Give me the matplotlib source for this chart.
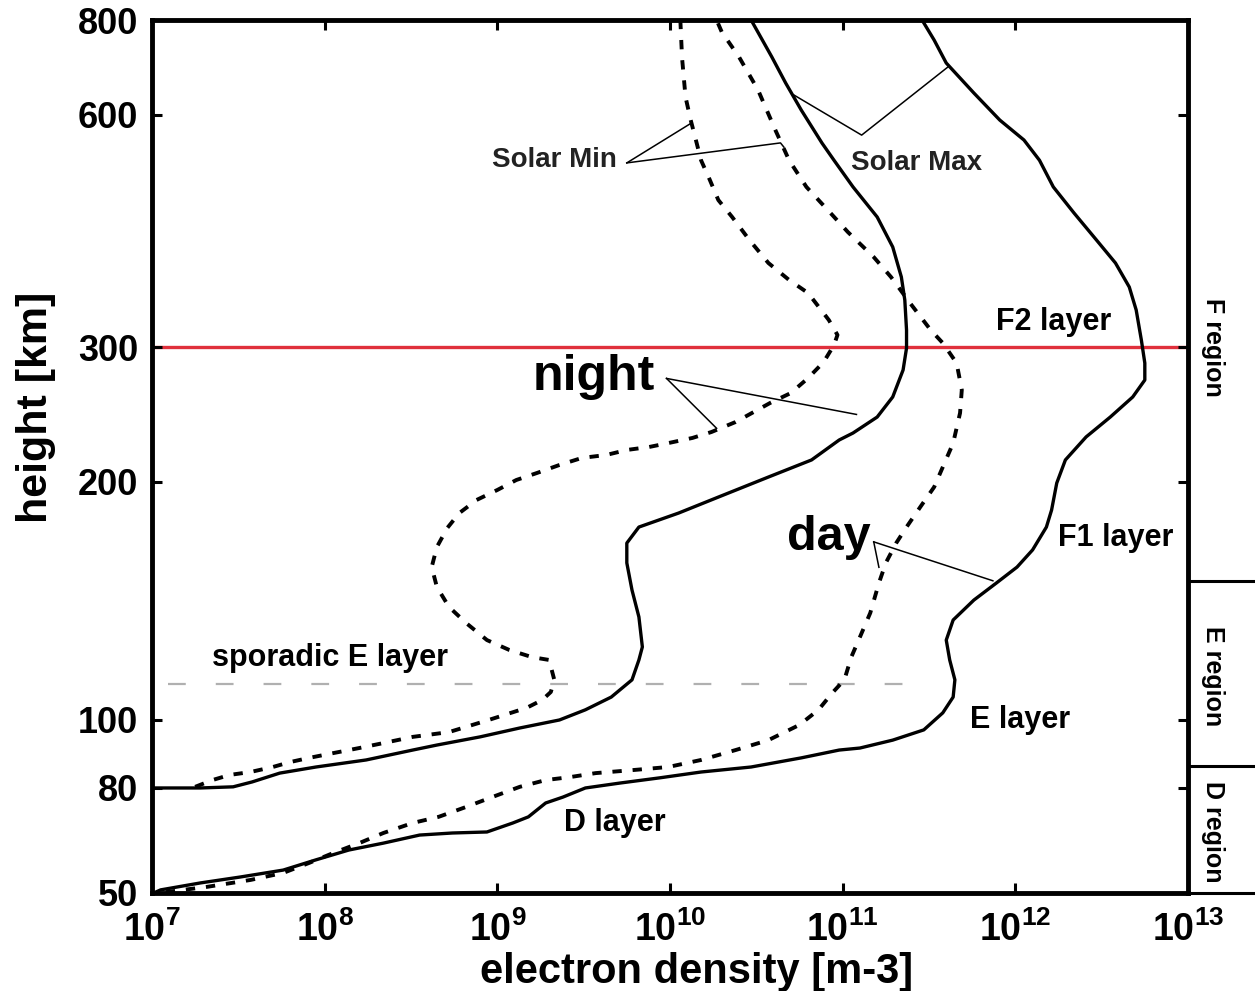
import numpy as np
import matplotlib.pyplot as plt
from matplotlib.ticker import NullLocator
from matplotlib.transforms import blended_transform_factory

plt.rcParams['font.family'] = ['Liberation Sans', 'DejaVu Sans']
plt.rcParams['font.weight'] = 'bold'
plt.rcParams['axes.labelweight'] = 'bold'
plt.rcParams['mathtext.fontset'] = 'custom'
plt.rcParams['mathtext.rm'] = 'Liberation Sans:bold'
plt.rcParams['mathtext.default'] = 'rm'

# electron density profiles: log10(n [m-3]) and height [km]
night_min_logn = [7.25, 7.35, 7.45, 7.57, 7.70, 7.80, 7.91, 8.05, 8.20, 8.34,
                  8.51, 8.72, 8.95, 9.17, 9.26, 9.31, 9.33, 9.30, 9.20, 9.07,
                  8.94, 8.82, 8.72, 8.65, 8.62, 8.65, 8.71, 8.78, 8.88, 9.00,
                  9.11, 9.23, 9.36, 9.49, 9.63, 9.75, 9.88, 9.99, 10.13, 10.24,
                  10.38, 10.58, 10.70, 10.80, 10.89, 10.95, 10.97, 10.92, 10.80, 10.69,
                  10.57, 10.46, 10.36, 10.28, 10.23, 10.18, 10.15, 10.12, 10.09, 10.07,
                  10.06]
night_min_h = [80.3, 82.1, 83.5, 84.3, 85.7, 87.1, 88.3, 89.7, 91.2, 92.7,
               94.6, 96.1, 100, 103.6, 106.0, 108.5, 112.4, 119.1, 120.1, 122.6,
               126.2, 132.6, 139.0, 147.3, 156.1, 165.5, 174.9, 182.7, 189.8, 195.4,
               201.2, 205.5, 210.5, 215.0, 216.9, 220.2, 222.2, 224.8, 228.3, 232.4,
               239.5, 253.6, 261.3, 273.3, 286.8, 301.8, 311, 325.2, 352.5, 366.5,
               385.6, 413, 442.4, 465.4, 494.7, 524.1, 556.8, 591, 633.6, 713,
               800]

night_max_logn = [7.01, 7.28, 7.47, 7.58, 7.74, 7.95, 8.24, 8.51, 8.65, 8.90,
                  9.13, 9.36, 9.51, 9.66, 9.78, 9.82, 9.84, 9.82, 9.78, 9.75,
                  9.75, 9.82, 10.05, 10.28, 10.57, 10.82, 10.98, 11.06, 11.20, 11.29,
                  11.35, 11.37, 11.37, 11.36, 11.34, 11.29, 11.20, 11.06, 10.95, 10.88,
                  10.76, 10.67, 10.59, 10.47]
night_max_h = [80, 80, 80.3, 81.6, 84.0, 85.7, 87.7, 90.6, 92.1, 94.6,
               97.4, 100, 103.0, 106.9, 112.4, 119.1, 123.7, 135.0, 146.0, 158.0,
               167.4, 175.4, 182.7, 191.4, 203.0, 213.7, 226.9, 231.7, 243.1, 258.2,
               280.0, 299.1, 315.6, 345.2, 369.8, 404.5, 442.4, 484.0, 524.1, 551.9,
               609.2, 661.0, 715.2, 800]

day_min_logn = [7.08, 7.32, 7.57, 7.76, 7.91, 8.05, 8.20, 8.34, 8.51, 8.66,
                8.82, 8.97, 9.13, 9.28, 9.42, 9.57, 9.80, 9.99, 10.18, 10.38,
                10.57, 10.75, 10.86, 10.94, 11.01, 11.05, 11.10, 11.16, 11.21, 11.25,
                11.31, 11.37, 11.45, 11.53, 11.58, 11.64, 11.68, 11.69, 11.66, 11.58,
                11.51, 11.39, 11.28, 11.18, 11.03, 10.94, 10.79, 10.69, 10.61, 10.51,
                10.40, 10.30, 10.27]
day_min_h = [50.2, 51.4, 53.0, 54.7, 57.2, 59.8, 62.5, 65.4, 68.4, 70.3,
             73.5, 76.8, 80.3, 82.1, 82.9, 84.0, 84.9, 85.7, 87.7, 90.6,
             93.6, 98.4, 103.0, 108.2, 112.4, 120.1, 127.3, 136.6, 149.0, 158.0,
             167.4, 175.4, 186.0, 197.1, 209.2, 224.8, 246.1, 263.7, 285.9, 303.6,
             315.6, 342.2, 369.8, 392.5, 423.0, 445.1, 484.0, 524.1, 573.8, 647.2,
             715.2, 771.4, 800]

day_max_logn = [7.01, 7.05, 7.28, 7.51, 7.76, 7.95, 8.14, 8.34, 8.55, 8.74,
                8.94, 9.09, 9.18, 9.28, 9.38, 9.51, 9.71, 9.94, 10.18, 10.47,
                10.76, 10.98, 11.10, 11.29, 11.47, 11.58, 11.64, 11.65, 11.62, 11.60,
                11.64, 11.76, 11.89, 12.01, 12.10, 12.18, 12.21, 12.24, 12.29, 12.41,
                12.55, 12.68, 12.75, 12.75, 12.73, 12.72, 12.70, 12.66, 12.58, 12.47,
                12.34, 12.22, 12.14, 12.05, 11.91, 11.76, 11.60, 11.53, 11.46]
day_max_h = [50, 50.7, 52.3, 53.7, 55.4, 58.0, 60.6, 62.5, 64.8, 65.4,
             65.7, 68.4, 70.3, 74.8, 76.8, 80, 81.3, 82.7, 84.3, 85.7,
             88.3, 90.6, 91.2, 93.6, 96.8, 102.1, 106.9, 112.4, 119.1, 126.2,
             133.8, 141.8, 149.0, 156.1, 164.1, 175.4, 184.3, 199.4, 213.7, 229.0,
             243.1, 258.2, 271.7, 285.9, 306.3, 315.6, 335.1, 358.9, 385.6, 413,
             447.7, 484, 524.1, 556.8, 591, 641.3, 702.3, 752.8, 800]

y_ticks = [50, 80, 100, 200, 300, 600, 800]
x_exponents = [7, 8, 9, 10, 11, 12, 13]
f2_peak_h = 300
sporadic_h = 111
sporadic_logn = [7.09, 11.39]
region_bounds = [150, 86, 50]
regions = ['F region', 'E region', 'D region']
region_mid = [300, 113.7, 65.7]

# the height axis of the original is stretched unevenly: tick height -> axis fraction
scale_h = np.log10([1, 50, 80, 100, 200, 300, 600, 800, 1e5])
scale_f = [-1.0, 0.0, 0.1203, 0.1982, 0.4708, 0.6254, 0.8912, 1.0, 2.83]


def h_fwd(h):
    return np.interp(np.log10(np.clip(h, 1, 1e5)), scale_h, scale_f)


def h_inv(f):
    return 10 ** np.interp(f, scale_f, scale_h)


def n(logs):
    return 10 ** np.asarray(logs)


fig = plt.figure(figsize=(12.55, 9.91), dpi=100)
ax = fig.add_axes([0.1211, 0.0989, 0.8255, 0.8809])
ax.set_xscale('log')
ax.set_yscale('function', functions=(h_fwd, h_inv))
ax.set_xlim(1e7, 1e13)
ax.set_ylim(50, 800)

dash = (0, (2.4, 2.8))
ax.plot(n(night_min_logn), night_min_h, color='black', lw=2.8, ls=dash)
ax.plot(n(night_max_logn), night_max_h, color='black', lw=2.4)
ax.plot(n(day_min_logn), day_min_h, color='black', lw=2.8, ls=dash)
ax.plot(n(day_max_logn), day_max_h, color='black', lw=2.4)

ax.axhline(f2_peak_h, color='#e0303c', lw=2.4, zorder=1)
ax.plot(n(sporadic_logn), [sporadic_h, sporadic_h], color='#b0b0b0', lw=1.6,
        ls=(0, (8, 13.5)), zorder=1)

# leader lines of the labels
leaders = [
    [(9.75, 520), (10.12, 585)],
    [(9.75, 520), (10.64, 552), (10.66, 545)],
    [(10.72, 637), (11.11, 565), (11.61, 694)],
    [(9.98, 273), (11.08, 245)],
    [(9.98, 273), (10.27, 235)],
    [(11.18, 168), (11.87, 150)],
    [(11.18, 168), (11.21, 156)],
]
for pts in leaders:
    xs, ys = zip(*pts)
    ax.plot(n(xs), ys, color='black', lw=1.1)

ax.text(n(9.33), 524, 'Solar Min', fontsize=20, ha='center', va='center', color='#222222')
ax.text(n(11.43), 520, 'Solar Max', fontsize=20, ha='center', va='center', color='#222222')
ax.text(n(9.56), 274, 'night', fontsize=36, ha='center', va='center')
ax.text(n(10.92), 170, 'day', fontsize=35, ha='center', va='center')
ax.text(n(12.22), 323, 'F2 layer', fontsize=22, ha='center', va='center')
ax.text(n(12.58), 170, 'F1 layer', fontsize=22, ha='center', va='center')
ax.text(n(12.03), 100, 'E layer', fontsize=22, ha='center', va='center')
ax.text(n(9.68), 68.4, 'D layer', fontsize=22, ha='center', va='center')
ax.text(n(8.03), 119.8, 'sporadic E layer', fontsize=22, ha='center', va='center')

# region brackets to the right of the frame
tr = blended_transform_factory(ax.transAxes, ax.transData)
for hb in region_bounds:
    ax.plot([1.0, 1.07], [hb, hb], color='black', lw=2.2, transform=tr, clip_on=False)
for name, hm in zip(regions, region_mid):
    ax.text(1.024, hm, name, transform=tr, rotation=270, fontsize=18,
            ha='center', va='center')

ax.set_xticks(n(x_exponents))
ax.set_xticklabels([r'$10^{%d}$' % e for e in x_exponents])
ax.xaxis.set_minor_locator(NullLocator())
ax.set_yticks(y_ticks)
ax.set_yticklabels([str(v) for v in y_ticks])
ax.yaxis.set_minor_locator(NullLocator())
ax.tick_params(direction='in', length=7, width=2.2, top=True, right=True)
ax.tick_params(axis='y', labelsize=26, pad=10)
ax.tick_params(axis='x', labelsize=27, pad=13)
for sp in ax.spines.values():
    sp.set_linewidth(3.5)

ax.set_xlabel('electron density [m-3]', fontsize=30, va='baseline')
ax.xaxis.set_label_coords(0.526, -0.103)
ax.set_ylabel('height [km]', fontsize=31, va='baseline')
ax.yaxis.set_label_coords(-0.101, 0.556)

fig.savefig('out.png', dpi=100)
